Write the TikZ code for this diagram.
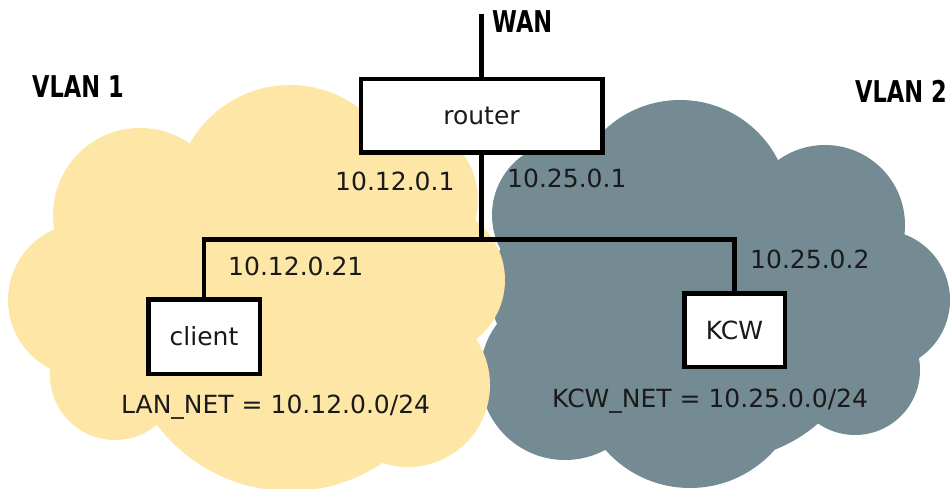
\documentclass[tikz,border=0pt]{standalone}
\usepackage{fontspec}
\usepackage{graphicx}
\setmainfont{DejaVu Sans}
\definecolor{ylw}{HTML}{FDE6A6}
\definecolor{slate}{HTML}{748B94}
\definecolor{ink}{HTML}{1A1A1A}
\tikzset{
  netbox/.style={draw=black, fill=white, line width=4.5pt, inner sep=0pt,
    font=\fontsize{25}{30}\selectfont, text=ink},
  addr/.style={anchor=base west, inner sep=0pt, font=\fontsize{25}{30}\selectfont, text=ink},
  vlan/.style={anchor=base west, inner sep=0pt, font=\fontsize{30}{34}\selectfont\bfseries, text=black},
  wire/.style={draw=black, line width=4.5pt}
}
\newcommand{\narrow}[1]{\scalebox{0.75}[1]{#1}}
\begin{document}
\begin{tikzpicture}[x=1pt,y=-1pt]
\useasboundingbox (0,0) rectangle (950,489);
% gray cloud (VLAN 2)
\fill[slate] (720,310) circle[radius=150pt];
\fill[slate] (565,215) circle[radius=73pt];
\fill[slate] (680,210) circle[radius=110pt];
\fill[slate] (825,225) circle[radius=80pt];
\fill[slate] (880,300) circle[radius=70pt];
\fill[slate] (855,370) circle[radius=65pt];
\fill[slate] (690,375) circle[radius=113pt];
\fill[slate] (565,375) circle[radius=85pt];
\fill[slate] (575,290) circle[radius=85pt];
% yellow cloud (VLAN 1)
\fill[ylw] (290,324) circle[radius=167pt];
\fill[ylw] (290,200) circle[radius=115pt];
\fill[ylw] (140,215) circle[radius=87pt];
\fill[ylw] (85,300) circle[radius=77pt];
\fill[ylw] (115,375) circle[radius=65pt];
\fill[ylw] (400,200) circle[radius=78pt];
\fill[ylw] (430,280) circle[radius=75pt];
\fill[ylw] (408,385) circle[radius=82pt];
% boxes
\node[netbox, minimum width=241.5pt, minimum height=73.5pt] (router) at (481.5,116) {router};
\node[netbox, minimum width=111.5pt, minimum height=74.5pt] (client) at (204,336.5) {client};
\node[netbox, minimum width=100.5pt, minimum height=73.5pt] (kcw) at (734.5,330) {KCW};
\coordinate (wantop) at (481.5,14);
\coordinate (junc) at (481.5,239.5);
% wires
\draw[wire] (router.north) -- (wantop);
\draw[wire] (router.south) -- (junc);
\draw[wire, line join=miter] (client.north) |- (junc) -| (kcw.north);
% labels
\node[vlan] (wanlbl) at (492,33) {\narrow{WAN}};
\node[vlan] (vlan1) at (32,98) {\narrow{VLAN 1}};
\node[vlan] (vlan2) at (855,103) {\narrow{VLAN 2}};
\node[addr] (a1) at (335,190) {10.12.0.1};
\node[addr] (a2) at (507,188) {10.25.0.1};
\node[addr] (a3) at (228,275) {10.12.0.21};
\node[addr] (a4) at (750,268) {10.25.0.2};
\node[addr] (lannet) at (121,413) {LAN\_NET = 10.12.0.0/24};
\node[addr] (kcwnet) at (552,407) {KCW\_NET = 10.25.0.0/24};
\end{tikzpicture}
\end{document}
